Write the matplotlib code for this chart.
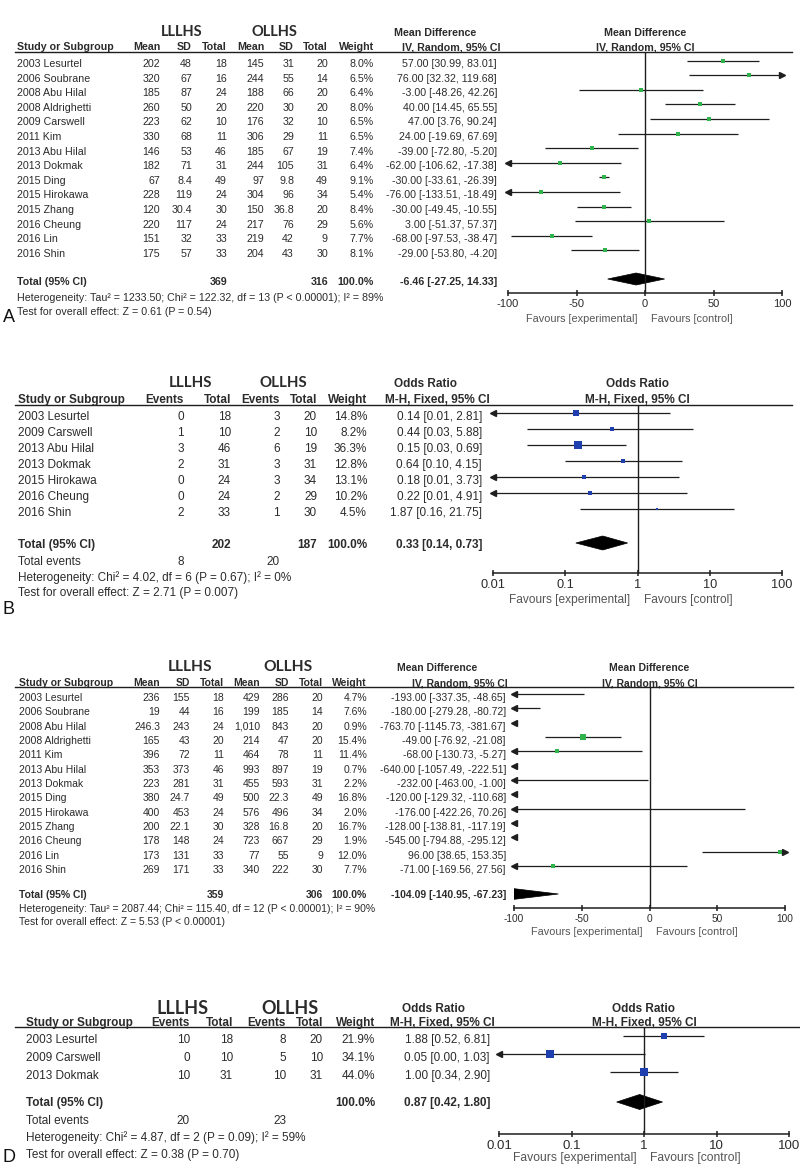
import matplotlib.pyplot as plt
from matplotlib.patches import Polygon
from matplotlib.ticker import NullLocator

W, H = 800, 1167
plt.rcParams['font.family'] = ['Liberation Sans', 'DejaVu Sans']

TXT = '#2b2b2b'
LINE = '#1e1e1e'
GREEN = '#2fb34a'
BLUE = '#1f3fae'

# ---------- A : mean difference, 14 studies ----------
a_study = ['2003 Lesurtel', '2006 Soubrane', '2008 Abu Hilal', '2008 Aldrighetti',
           '2009 Carswell', '2011 Kim', '2013 Abu Hilal', '2013 Dokmak', '2015 Ding',
           '2015 Hirokawa', '2015 Zhang', '2016 Cheung', '2016 Lin', '2016 Shin']
a_mean1 = [202, 320, 185, 260, 223, 330, 146, 182, 67, 228, 120, 220, 151, 175]
a_sd1 = [48, 67, 87, 50, 62, 68, 53, 71, 8.4, 119, 30.4, 117, 32, 57]
a_n1 = [18, 16, 24, 20, 10, 11, 46, 31, 49, 24, 30, 24, 33, 33]
a_mean2 = [145, 244, 188, 220, 176, 306, 185, 244, 97, 304, 150, 217, 219, 204]
a_sd2 = [31, 55, 66, 30, 32, 29, 67, 105, 9.8, 96, 36.8, 76, 42, 43]
a_n2 = [20, 14, 20, 20, 10, 11, 19, 31, 49, 34, 20, 29, 9, 30]
a_weight = [8.0, 6.5, 6.4, 8.0, 6.5, 6.5, 7.4, 6.4, 9.1, 5.4, 8.4, 5.6, 7.7, 8.1]
a_md = [57.00, 76.00, -3.00, 40.00, 47.00, 24.00, -39.00, -62.00, -30.00, -76.00,
        -30.00, 3.00, -68.00, -29.00]
a_lo = [30.99, 32.32, -48.26, 14.45, 3.76, -19.69, -72.80, -106.62, -33.61, -133.51,
        -49.45, -51.37, -97.53, -53.80]
a_hi = [83.01, 119.68, 42.26, 65.55, 90.24, 67.69, -5.20, -17.38, -26.39, -18.49,
        -10.55, 57.37, -38.47, -4.20]
a_total_n = [369, 316]
a_total = (-6.46, -27.25, 14.33)
a_het = 'Heterogeneity: Tau² = 1233.50; Chi² = 122.32, df = 13 (P < 0.00001); I² = 89%'
a_test = 'Test for overall effect: Z = 0.61 (P = 0.54)'

# ---------- B : odds ratio, 7 studies ----------
b_study = ['2003 Lesurtel', '2009 Carswell', '2013 Abu Hilal', '2013 Dokmak',
           '2015 Hirokawa', '2016 Cheung', '2016 Shin']
b_ev1 = [0, 1, 3, 2, 0, 0, 2]
b_n1 = [18, 10, 46, 31, 24, 24, 33]
b_ev2 = [3, 2, 6, 3, 3, 2, 1]
b_n2 = [20, 10, 19, 31, 34, 29, 30]
b_weight = [14.8, 8.2, 36.3, 12.8, 13.1, 10.2, 4.5]
b_or = [0.14, 0.44, 0.15, 0.64, 0.18, 0.22, 1.87]
b_lo = [0.01, 0.03, 0.03, 0.10, 0.01, 0.01, 0.16]
b_hi = [2.81, 5.88, 0.69, 4.15, 3.73, 4.91, 21.75]
b_total_n = [202, 187]
b_total_events = [8, 20]
b_total = (0.33, 0.14, 0.73)
b_het = 'Heterogeneity: Chi² = 4.02, df = 6 (P = 0.67); I² = 0%'
b_test = 'Test for overall effect: Z = 2.71 (P = 0.007)'

# ---------- C : mean difference, 13 studies ----------
c_study = ['2003 Lesurtel', '2006 Soubrane', '2008 Abu Hilal', '2008 Aldrighetti',
           '2011 Kim', '2013 Abu Hilal', '2013 Dokmak', '2015 Ding', '2015 Hirokawa',
           '2015 Zhang', '2016 Cheung', '2016 Lin', '2016 Shin']
c_mean1 = [236, 19, 246.3, 165, 396, 353, 223, 380, 400, 200, 178, 173, 269]
c_sd1 = [155, 44, 243, 43, 72, 373, 281, 24.7, 453, 22.1, 148, 131, 171]
c_n1 = [18, 16, 24, 20, 11, 46, 31, 49, 24, 30, 24, 33, 33]
c_mean2 = [429, 199, 1010, 214, 464, 993, 455, 500, 576, 328, 723, 77, 340]
c_sd2 = [286, 185, 843, 47, 78, 897, 593, 22.3, 496, 16.8, 667, 55, 222]
c_n2 = [20, 14, 20, 20, 11, 19, 31, 49, 34, 20, 29, 9, 30]
c_weight = [4.7, 7.6, 0.9, 15.4, 11.4, 0.7, 2.2, 16.8, 2.0, 16.7, 1.9, 12.0, 7.7]
c_md = [-193.00, -180.00, -763.70, -49.00, -68.00, -640.00, -232.00, -120.00,
        -176.00, -128.00, -545.00, 96.00, -71.00]
c_lo = [-337.35, -279.28, -1145.73, -76.92, -130.73, -1057.49, -463.00, -129.32,
        -422.26, -138.81, -794.88, 38.65, -169.56]
c_hi = [-48.65, -80.72, -381.67, -21.08, -5.27, -222.51, -1.00, -110.68, 70.26,
        -117.19, -295.12, 153.35, 27.56]
c_total_n = [359, 306]
c_total = (-104.09, -140.95, -67.23)
c_het = 'Heterogeneity: Tau² = 2087.44; Chi² = 115.40, df = 12 (P < 0.00001); I² = 90%'
c_test = 'Test for overall effect: Z = 5.53 (P < 0.00001)'

# ---------- D : odds ratio, 3 studies ----------
d_study = ['2003 Lesurtel', '2009 Carswell', '2013 Dokmak']
d_ev1 = [10, 0, 10]
d_n1 = [18, 10, 31]
d_ev2 = [8, 5, 10]
d_n2 = [20, 10, 31]
d_weight = [21.9, 34.1, 44.0]
d_or = [1.88, 0.05, 1.00]
d_lo = [0.52, 0.00, 0.34]
d_hi = [6.81, 1.03, 2.90]
d_total_events = [20, 23]
d_total = (0.87, 0.42, 1.80)
d_het = 'Heterogeneity: Chi² = 4.87, df = 2 (P = 0.09); I² = 59%'
d_test = 'Test for overall effect: Z = 0.38 (P = 0.70)'

md_ticks = [-100, -50, 0, 50, 100]
or_ticks = [0.01, 0.1, 1, 10, 100]

fig = plt.figure(figsize=(W / 100, H / 100), dpi=100)
ov = fig.add_axes([0, 0, 1, 1])
ov.set_xlim(0, W)
ov.set_ylim(H, 0)
ov.axis('off')


def num(v):
    return f"{v:,}"


def ci_text(e, l, h):
    return f"{e:.2f} [{l:.2f}, {h:.2f}]"


def panel(lay, study, cols, heads, weight, est, lo, hi, tot_n, tot_ci, events,
          het, test, stat, ticks, log, colour, label):
    fs = lay['fs']
    s, r0, dy = lay['step'], lay['r0'], lay['dy']
    kw = dict(fontsize=fs, color=TXT, va='center')
    bold = dict(kw, fontweight='bold')
    cx = lay['col_x']
    ref_px = sum(lay['ax_px']) / 2

    # headers
    for name, xc in zip(['LLLHS', 'OLLHS'], lay['grp_x']):
        ov.text(xc, lay['grp_y'], name, ha='center', va='center', color=TXT,
                fontsize=lay['gfs'], fontweight='bold', family=['Lato', 'DejaVu Sans'])
    ov.text(lay['study_x'], lay['col_y'], 'Study or Subgroup', ha='left', **bold)
    for h, x in zip(heads + ['Weight'], cx):
        ov.text(x, lay['col_y'], h, ha='right', **bold)
    ov.text(lay['stat_x'][0], lay['grp_y'] + 1, stat[0], ha='center', **bold)
    ov.text(lay['stat_x'][1], lay['col_y'], stat[1], ha='right', **bold)
    ov.text(ref_px, lay['grp_y'] + 1, stat[0], ha='center', **bold)
    ov.text(ref_px, lay['col_y'], stat[1], ha='center', **bold)
    ov.plot([15, lay['line_end']], [lay['line_y']] * 2, color=LINE, lw=1)

    # study rows
    for i, name in enumerate(study):
        y = r0 + i * s
        ov.text(lay['study_x'], y, name, ha='left', **kw)
        for col, x in zip(cols, cx):
            ov.text(x, y, num(col[i]), ha='right', **kw)
        ov.text(cx[-1], y, f"{weight[i]:.1f}%", ha='right', **kw)
        ov.text(lay['est_x'], y, ci_text(est[i], lo[i], hi[i]), ha='right', **kw)

    # totals
    ty = lay['total_y']
    ov.text(lay['study_x'], ty, 'Total (95% CI)', ha='left', **bold)
    if tot_n:
        ov.text(cx[len(cols) // 2 - 1], ty, num(tot_n[0]), ha='right', **bold)
        ov.text(cx[len(cols) - 1], ty, num(tot_n[1]), ha='right', **bold)
    ov.text(cx[-1], ty, '100.0%', ha='right', **bold)
    ov.text(lay['est_x'], ty, ci_text(*tot_ci), ha='right', **bold)
    if events:
        ey = lay['events_y']
        ov.text(lay['study_x'], ey, 'Total events', ha='left', **kw)
        ov.text(cx[0], ey, num(events[0]), ha='right', **kw)
        ov.text(cx[2], ey, num(events[1]), ha='right', **kw)
    ov.text(lay['study_x'], lay['het_y'], het, ha='left', **kw)
    ov.text(lay['study_x'], lay['test_y'], test, ha='left', **kw)
    if label:
        ov.text(lay['label_xy'][0], lay['label_xy'][1], label, ha='left', va='center',
                fontsize=13, color='#111111')

    # forest axes
    xa, xb = lay['ax_px']
    top, bot = lay['line_y'], lay['axis_y']
    ax = fig.add_axes([xa / W, 1 - bot / H, (xb - xa) / W, (bot - top) / H])
    ax.patch.set_alpha(0)
    if log:
        ax.set_xscale('log')
    xmin, xmax = ticks[0], ticks[-1]
    ax.set_xlim(xmin, xmax)
    ax.set_ylim((bot - r0 - dy) / s, (top - r0 - dy) / s)
    for side in ['top', 'left', 'right']:
        ax.spines[side].set_visible(False)
    ax.spines['bottom'].set_color(LINE)
    ax.spines['bottom'].set_linewidth(1.1)
    ax.set_yticks([])
    ax.set_xticks(ticks)
    ax.set_xticklabels([f"{t:g}" for t in ticks])
    ax.xaxis.set_minor_locator(NullLocator())
    ax.tick_params(axis='x', direction='inout', length=4.5, width=1.1, pad=2,
                   labelsize=lay['tfs'], labelcolor=TXT, color=LINE)
    ref = 1 if log else 0
    ax.axvline(ref, color=LINE, lw=1)

    for i in range(len(study)):
        l, h = max(lo[i], xmin), min(hi[i], xmax)
        if h > xmin and l < xmax:
            ax.plot([l, h], [i, i], color=LINE, lw=0.9, solid_capstyle='butt')
        if lo[i] <= xmin:
            ax.plot(xmin, i, marker='<', ms=4, color=LINE, clip_on=False)
        if hi[i] >= xmax:
            ax.plot(xmax, i, marker='>', ms=4, color=LINE, clip_on=False)
        if xmin < est[i] < xmax:
            side = 1.33 * weight[i] ** 0.5
            ax.plot(est[i], i, marker='s', ms=side * 0.72, color=colour,
                    mew=0, clip_on=False)

    dyy = (lay['dia_y'] - r0 - dy) / s
    dh = lay['dia_h'] / s
    e, l, h = tot_ci
    ax.add_patch(Polygon([[l, dyy], [e, dyy - dh], [h, dyy], [e, dyy + dh]],
                         closed=True, facecolor='black', edgecolor='black', lw=0.5))

    fkw = dict(fontsize=lay['ffs'], color='#555555', va='center')
    ov.text(ref_px - 7, lay['fav_y'], 'Favours [experimental]', ha='right', **fkw)
    ov.text(ref_px + 6, lay['fav_y'], 'Favours [control]', ha='left', **fkw)


lay_a = dict(fs=7.7, gfs=10.5, grp_y=32, col_y=47, line_y=52, line_end=792, r0=64,
             step=14.6, dy=-3.5, total_y=282, events_y=None, het_y=298, test_y=312,
             axis_y=293, fav_y=319, study_x=17, col_x=[160, 192, 227, 264, 294, 328, 374],
             grp_x=[182, 274], est_x=497, stat_x=[435, 500], ax_px=[508, 782],
             tfs=8, ffs=7.8, dia_y=279, dia_h=6, label_xy=(3, 318))
lay_b = dict(fs=8.5, gfs=10.8, grp_y=383, col_y=400, line_y=405, line_end=792, r0=417,
             step=16, dy=-4, total_y=545, events_y=562, het_y=578, test_y=593,
             axis_y=573, fav_y=600, study_x=18, col_x=[184, 231, 280, 317, 367],
             grp_x=[190, 283], est_x=482, stat_x=[426, 490], ax_px=[493, 782],
             tfs=9.2, ffs=8.6, dia_y=543, dia_h=7, label_xy=(3, 609))
lay_c = dict(fs=7.5, gfs=11.2, grp_y=667, col_y=683, line_y=687, line_end=793, r0=698,
             step=14.33, dy=-4, total_y=895, events_y=None, het_y=909, test_y=922,
             axis_y=908, fav_y=932, study_x=19, col_x=[160, 190, 224, 260, 289, 323, 367],
             grp_x=[190, 288], est_x=506, stat_x=[437, 508], ax_px=[514, 785],
             tfs=7.3, ffs=7.8, dia_y=894, dia_h=6, label_xy=None)
lay_d = dict(fs=8.5, gfs=13, grp_y=1008, col_y=1023, line_y=1027, line_end=800, r0=1040,
             step=18, dy=-4.5, total_y=1103, events_y=1121, het_y=1138, test_y=1155,
             axis_y=1134, fav_y=1158, study_x=26, col_x=[190, 233, 286, 323, 375],
             grp_x=[183, 290], est_x=490, stat_x=[433, 495], ax_px=[499, 789],
             tfs=9.5, ffs=8.7, dia_y=1102, dia_h=7.5, label_xy=(3, 1158))

md_heads = ['Mean', 'SD', 'Total', 'Mean', 'SD', 'Total']
or_heads = ['Events', 'Total', 'Events', 'Total']
md_stat = ['Mean Difference', 'IV, Random, 95% CI']
or_stat = ['Odds Ratio', 'M-H, Fixed, 95% CI']

panel(lay_a, a_study, [a_mean1, a_sd1, a_n1, a_mean2, a_sd2, a_n2], md_heads,
      a_weight, a_md, a_lo, a_hi, a_total_n, a_total, None, a_het, a_test,
      md_stat, md_ticks, False, GREEN, 'A')
panel(lay_b, b_study, [b_ev1, b_n1, b_ev2, b_n2], or_heads,
      b_weight, b_or, b_lo, b_hi, b_total_n, b_total, b_total_events, b_het, b_test,
      or_stat, or_ticks, True, BLUE, 'B')
panel(lay_c, c_study, [c_mean1, c_sd1, c_n1, c_mean2, c_sd2, c_n2], md_heads,
      c_weight, c_md, c_lo, c_hi, c_total_n, c_total, None, c_het, c_test,
      md_stat, md_ticks, False, GREEN, None)
panel(lay_d, d_study, [d_ev1, d_n1, d_ev2, d_n2], or_heads,
      d_weight, d_or, d_lo, d_hi, None, d_total, d_total_events, d_het, d_test,
      or_stat, or_ticks, True, BLUE, 'D')

fig.savefig('out.png', dpi=100)
